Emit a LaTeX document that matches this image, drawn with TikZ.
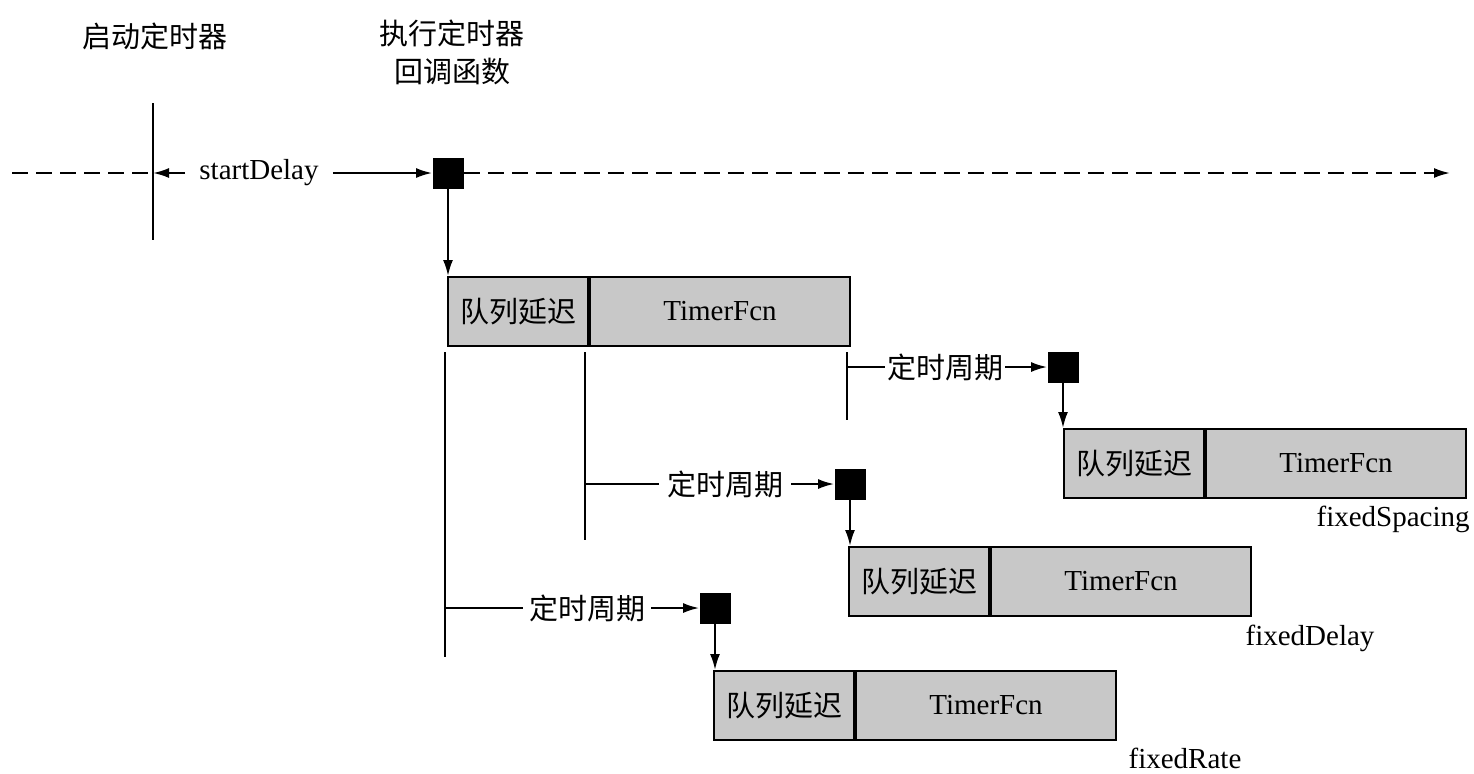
\documentclass[tikz,border=0pt]{standalone}
\usepackage{fontspec}
\setmainfont{Liberation Serif}
\newfontfamily\cjk{Noto Sans CJK SC}
\usetikzlibrary{arrows.meta}
\definecolor{boxgray}{RGB}{200,200,200}
\begin{document}
\begin{tikzpicture}[x=0.5pt,y=-0.5pt,
  every node/.style={font=\fontsize{14.5}{17}\selectfont},
  cn/.style={font=\cjk\fontsize{14.5}{17}\selectfont},
  lbl/.style={inner sep=2pt},
  ev/.style={fill=black, minimum size=15.5pt, inner sep=0pt, draw=none},
  qbox/.style={draw, line width=1pt, fill=boxgray, minimum height=34.5pt, minimum width=70pt, inner sep=0pt, anchor=north west, font=\cjk\fontsize{14.5}{17}\selectfont},
  fbox/.style={draw, line width=1pt, fill=boxgray, minimum height=34.5pt, minimum width=130pt, inner sep=0pt, anchor=north west},
  ln/.style={line width=1pt},
  arr/.style={ln, -{Latex[length=8pt,width=5pt]}},
  dsh/.style={ln, dash pattern=on 8pt off 4pt}
]
\path[use as bounding box] (0,0) rectangle (1474,773);

% titles
\node[cn] (tstart) at (155,36) {启动定时器};
\node[cn, align=center] (texec) at (452,52) {执行定时器\\[2pt]回调函数};

% main time line
\coordinate (bartop) at (153,103);
\coordinate (barbot) at (153,240);
\coordinate (barmid) at (153,173);
\coordinate (lstart) at (12,173);
\coordinate (lend) at (1450,173);
\draw[ln] (bartop) -- (barbot);
\node[ev] (s0) at (448,173) {};
\node[inner sep=7pt] (sd) at (259,173) {startDelay};
\draw[dsh] (lstart) -- (barmid);
\draw[arr] (sd.west) -- (barmid);
\draw[arr] (sd.east) -- (s0.west);
\draw[dsh, -{Latex[length=8pt,width=5pt]}] (s0.east) -- (lend);

% box 1
\node[qbox] (q1) at (447,276) {队列延迟};
\node[fbox] (f1) at (q1.north east) {TimerFcn};
\draw[arr] (s0.south) -- (s0.south |- q1.north);

% reference bars below box 1
\coordinate (a1) at (445,352); \coordinate (a2) at (445,657);
\coordinate (b1) at (585,352); \coordinate (b2) at (585,540);
\coordinate (c1) at (847,352); \coordinate (c2) at (847,420);
\draw[ln] (a1) -- (a2);
\draw[ln] (b1) -- (b2);
\draw[ln] (c1) -- (c2);

% fixedSpacing
\coordinate (cs) at (847,367);
\node[cn, inner sep=1pt] (t1) at (945,367) {定时周期};
\node[ev] (s1) at (1063,367) {};
\draw[ln] (cs) -- (t1.west);
\draw[arr] (t1.east) -- (s1.west);
\node[qbox] (q4) at (1063,428) {队列延迟};
\node[fbox] (f4) at (q4.north east) {TimerFcn};
\draw[arr] (s1.south) -- (s1.south |- q4.north);
\node[anchor=north east, inner sep=0pt] (n4) at (1470,506) {fixedSpacing};

% fixedDelay
\coordinate (bs) at (585,484);
\node[cn, inner sep=4pt] (t2) at (725,484) {定时周期};
\node[ev] (s2) at (850,484) {};
\draw[ln] (bs) -- (t2.west);
\draw[arr] (t2.east) -- (s2.west);
\node[qbox] (q3) at (848,546) {队列延迟};
\node[fbox] (f3) at (q3.north east) {TimerFcn};
\draw[arr] (s2.south) -- (s2.south |- q3.north);
\node[anchor=north, inner sep=0pt] (n3) at (1310,625) {fixedDelay};

% fixedRate
\coordinate (as) at (445,608);
\node[cn, inner sep=3pt] (t3) at (587,608) {定时周期};
\node[ev] (s3) at (715,608) {};
\draw[ln] (as) -- (t3.west);
\draw[arr] (t3.east) -- (s3.west);
\node[qbox] (q2) at (713,670) {队列延迟};
\node[fbox] (f2) at (q2.north east) {TimerFcn};
\draw[arr] (s3.south) -- (s3.south |- q2.north);
\node[anchor=north, inner sep=0pt] (n2) at (1185,748) {fixedRate};
\end{tikzpicture}
\end{document}
